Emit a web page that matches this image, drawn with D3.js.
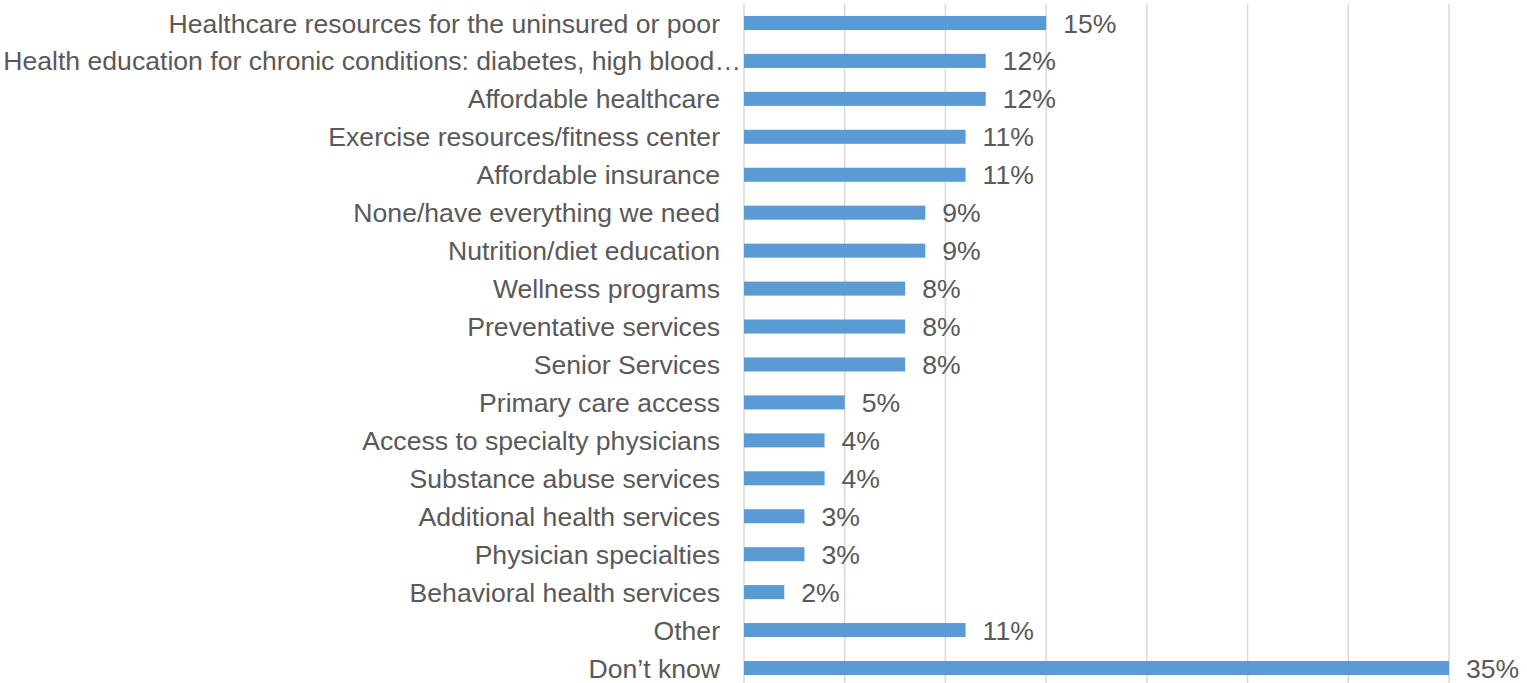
<!DOCTYPE html>
<html><head><meta charset="utf-8">
<script src="https://cdn.jsdelivr.net/npm/d3@7"></script>
<style>body{margin:0;background:#fff}svg{display:block}</style>
</head><body>
<script>
const categories = ["Healthcare resources for the uninsured or poor","Health education for chronic conditions: diabetes, high blood\u2026","Affordable healthcare","Exercise resources/fitness center","Affordable insurance","None/have everything we need","Nutrition/diet education","Wellness programs","Preventative services","Senior Services","Primary care access","Access to specialty physicians","Substance abuse services","Additional health services","Physician specialties","Behavioral health services","Other","Don\u2019t know"];
const values = [15,12,12,11,11,9,9,8,8,8,5,4,4,3,3,2,11,35];
const ticks = [0,5,10,15,20,25,30,35];

const W=1527,H=683;
const svg=d3.select("body").append("svg").attr("width",W).attr("height",H);
const x=d3.scaleLinear().domain([0,35]).range([744,1449]);
const y=d3.scaleBand().domain(categories).range([4,687]).paddingInner(0.63).paddingOuter(0.315);
const font="'Liberation Sans', Arial, sans-serif";
const fs=26.6;
svg.append("g").selectAll("line").data(ticks).join("line")
 .attr("x1",d=>x(d)).attr("x2",d=>x(d)).attr("y1",4).attr("y2",H)
 .attr("stroke","#d9d9d9").attr("stroke-width",1.5);
svg.append("g").selectAll("rect").data(values).join("rect")
 .attr("x",x(0)).attr("y",(d,i)=>y(categories[i])).attr("width",d=>x(d)-x(0)).attr("height",y.bandwidth())
 .attr("fill","#5b9bd5");
svg.append("g").selectAll("text").data(values).join("text")
 .attr("x",d=>x(d)+17).attr("y",(d,i)=>y(categories[i])+y.bandwidth()/2).attr("dy","0.36em")
 .attr("font-family",font).attr("font-size",fs).attr("fill","#595959").text(d=>d+"%");
svg.append("g").selectAll("text").data(categories).join("text")
 .attr("x",d=>d.endsWith("\u2026")?741:720).attr("y",d=>y(d)+y.bandwidth()/2).attr("dy","0.36em").attr("text-anchor","end")
 .attr("font-family",font).attr("font-size",fs).attr("fill","#595959").text(d=>d);
</script>
</body></html>
